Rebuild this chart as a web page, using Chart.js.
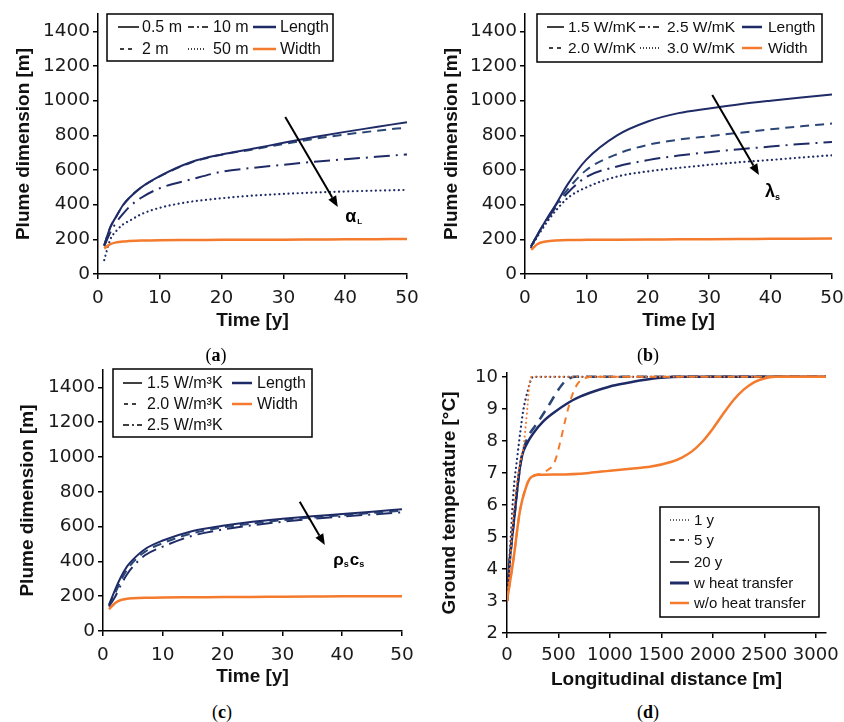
<!DOCTYPE html>
<html><head><meta charset="utf-8">
<script src="https://cdn.jsdelivr.net/npm/chart.js@4.4.0/dist/chart.umd.min.js"></script>
<style>
html,body{margin:0;padding:0;background:#fff;width:844px;height:722px;overflow:hidden;}
.p{position:absolute;}
canvas{display:block;}
.cap{position:absolute;font-family:"Liberation Serif",serif;font-size:18px;color:#000;transform:translate(-50%,-50%);white-space:nowrap;}
</style></head><body>
<div class="p" style="left:0;top:0"><canvas id="ca" width="422" height="340"></canvas></div>
<div class="p" style="left:422px;top:0"><canvas id="cb" width="422" height="340"></canvas></div>
<div class="p" style="left:0;top:340px"><canvas id="cc" width="422" height="360"></canvas></div>
<div class="p" style="left:422px;top:340px"><canvas id="cd" width="422" height="360"></canvas></div>
<div class="cap" style="left:216px;top:355px">(<b>a</b>)</div>
<div class="cap" style="left:648px;top:355px">(<b>b</b>)</div>
<div class="cap" style="left:222px;top:712px">(<b>c</b>)</div>
<div class="cap" style="left:648px;top:712px">(<b>d</b>)</div>
<script>
// ---------- data ----------
const timeYears = [1,2,3,4,5,7,10,15,20,25,30,35,40,45,50];
const timeTicks = [0,10,20,30,40,50];
const plumeTicks = [0,200,400,600,800,1000,1200,1400];

// (a) longitudinal dispersivity
const labelsA = ['0.5 m','10 m','Length','2 m','50 m','Width'];
const lenA_05m = [165,270,335,395,437,500,565,645,690,722,757,790,820,848,876];
const lenA_2m  = [165,270,335,395,437,500,563,642,688,718,750,780,805,826,845];
const lenA_10m = [160,240,300,345,385,440,495,545,590,612,630,648,662,676,690];
const lenA_50m = [80,200,250,285,305,345,382,417,437,452,462,470,476,481,485];
const widthA   = [148,172,183,188,190,193,195,196,197,198,198,199,200,201,202];

// (b) thermal conductivity
const labelsB = ['1.5 W/mK','2.5 W/mK','Length','2.0 W/mK','3.0 W/mK','Width'];
const lenB_15 = [160,225,285,345,400,520,660,800,880,928,955,980,1000,1018,1035];
const lenB_20 = [160,225,285,340,395,490,600,692,745,775,795,815,835,852,868];
const lenB_25 = [160,222,280,335,385,470,560,620,657,683,703,720,735,750,762];
const lenB_30 = [155,215,270,320,365,440,500,562,592,612,630,645,658,672,685];
const widthB  = [140,172,185,190,193,196,197,198,199,200,201,202,203,204,205];

// (c) volumetric heat capacity
const labelsC = ['1.5 W/m³K','2.0 W/m³K','2.5 W/m³K','Length','Width'];
const lenC_15 = [150,235,310,370,410,470,520,575,605,628,645,660,672,685,700];
const lenC_20 = [145,215,290,350,395,455,505,562,595,618,637,652,665,678,692];
const lenC_25 = [140,195,265,325,370,435,485,548,583,608,628,645,658,670,682];
const widthC  = [125,160,178,185,188,191,193,194,195,196,197,198,199,199,200];

// (d) ground temperature profiles
const labelsD = ['1 y','5 y','20 y','w heat transfer','w/o heat transfer'];
const distTicks = [0,500,1000,1500,2000,2500,3000];
const tempTicks = [2,3,4,5,6,7,8,9,10];
const dist1yW  = [0,20,40,62,100,130,159,200,240,260,3100];
const temp1yW  = [3.0,4.1,5.2,6.37,7.5,8.3,8.97,9.55,9.96,10,10];
const dist1yWo = [0,20,40,70,110,140,160,180,200,224,245,3100];
const temp1yWo = [3,3.8,4.7,6.0,7.0,7.5,7.8,8.4,9.1,9.9,10,10];
const dist5yW  = [0,25,50,80,110,143,191,300,400,500,560,613,660,3100];
const temp5yW  = [3,4.2,5,5.9,6.8,7.5,8.03,8.58,9.08,9.6,9.85,9.96,10,10];
const dist5yWo = [0,62,127,224,321,400,450,480,520,570,620,670,720,780,830,3100];
const temp5yWo = [3.0,4.28,5.84,6.83,6.97,7.1,7.25,7.5,8.0,8.7,9.3,9.7,9.9,9.98,10,10];
const dist20yW = [0,25,50,80,110,143,200,256,350,450,600,710,850,1000,1150,1326,1500,1700,3100];
const temp20yW = [3,4.2,5.0,5.9,6.8,7.5,7.95,8.24,8.6,8.87,9.2,9.38,9.55,9.7,9.8,9.9,9.97,10,10];
const dist20yWo = [0,62,127,180,224,321,500,800,1000,1200,1400,1600,1700,1800,1900,2000,2100,2200,2300,2400,2500,2600,3093];
const temp20yWo = [3.0,4.28,5.84,6.5,6.83,6.94,6.95,7.0,7.07,7.13,7.2,7.35,7.48,7.68,7.98,8.38,8.84,9.27,9.6,9.83,9.95,10,10];

// ---------- styles ----------
const NAVY = '#1f2b66', NAVY2 = '#2b4676', ORANGE = '#f47b2d';
const DASH = [9,6], DASHDOT = [16,6,2,6], DOT = [0.1,4.5];
const pts = (xs, ys) => xs.map((x,i) => ({x:x, y:ys[i]}));
function ds(xs, ys, color, dash, width, cap){
  return {data: pts(xs, ys), borderColor: color, borderWidth: width||2, borderDash: dash||[],
    borderCapStyle: cap||'butt', pointRadius: 0, fill:false, cubicInterpolationMode:'monotone'};
}

const deco = {};
const decoPlugin = {
  id: 'deco',
  afterDraw(chart){
    const cfg = deco[chart.canvas.id]; if(!cfg) return;
    const ctx = chart.ctx, xs = chart.scales.x, ys = chart.scales.y;
    ctx.save();
    if (cfg.arrow){
      const [t0,v0,t1,v1] = cfg.arrow;
      const x0 = xs.getPixelForValue(t0), y0 = ys.getPixelForValue(v0);
      const x1 = xs.getPixelForValue(t1), y1 = ys.getPixelForValue(v1);
      const ang = Math.atan2(y1-y0, x1-x0);
      const hl = 11, hw = 4.5;
      const bx = x1 - hl*Math.cos(ang), by = y1 - hl*Math.sin(ang);
      ctx.strokeStyle = '#000'; ctx.lineWidth = 2; ctx.setLineDash([]);
      ctx.beginPath(); ctx.moveTo(x0,y0); ctx.lineTo(bx,by); ctx.stroke();
      ctx.fillStyle = '#000'; ctx.beginPath();
      ctx.moveTo(x1,y1);
      ctx.lineTo(bx + hw*Math.sin(ang), by - hw*Math.cos(ang));
      ctx.lineTo(bx - hw*Math.sin(ang), by + hw*Math.cos(ang));
      ctx.closePath(); ctx.fill();
    }
    if (cfg.symbol){
      let x = xs.getPixelForValue(cfg.symbol.t), y = ys.getPixelForValue(cfg.symbol.v);
      ctx.fillStyle = '#000'; ctx.textBaseline = 'alphabetic'; ctx.textAlign = 'left';
      cfg.symbol.parts.forEach(p => {
        ctx.font = 'bold ' + p[1] + 'px "Liberation Sans", Arial, sans-serif';
        ctx.fillText(p[0], x, y + (p[2]||0));
        x += ctx.measureText(p[0]).width + (p[3]||0);
      });
    }
    if (cfg.legend){
      const L = cfg.legend;
      ctx.fillStyle = '#fff'; ctx.fillRect(L.box[0], L.box[1], L.box[2]-L.box[0], L.box[3]-L.box[1]);
      ctx.strokeStyle = '#000'; ctx.lineWidth = 1.5; ctx.setLineDash([]);
      ctx.strokeRect(L.box[0], L.box[1], L.box[2]-L.box[0], L.box[3]-L.box[1]);
      ctx.font = L.size + 'px "Liberation Sans", Arial, sans-serif';
      ctx.textBaseline = 'middle'; ctx.textAlign = 'left';
      L.items.forEach(it => {
        ctx.strokeStyle = it.c; ctx.lineWidth = it.w || 1.5; ctx.setLineDash(it.d || []);
        ctx.lineCap = it.cap || 'butt';
        ctx.beginPath(); ctx.moveTo(it.x1, it.y); ctx.lineTo(it.x2, it.y); ctx.stroke();
        ctx.setLineDash([]);
        ctx.fillStyle = '#111'; ctx.fillText(it.t, it.tx, it.y + 1);
      });
    }
    ctx.restore();
  }
};

function makeChart(id, datasets, o){
  deco[id] = o.deco;
  const tickFont = {family:'"DejaVu Sans", sans-serif', size:o.tickSize || 18.5};
  const titleFont = {family:'"Liberation Sans", Arial, sans-serif', size:19, weight:'bold'};
  const axisBase = {
    grid:{drawOnChartArea:false, drawTicks:true, tickLength:5, color:'#000', lineWidth:1.5},
    border:{display:true, color:'#000', width:1.5},
  };
  const fmt = v => String(v);
  return new Chart(document.getElementById(id), {
    type:'line',
    data:{datasets: datasets},
    options:{
      responsive:false, animation:false, events:[],
      layout:{padding:{left:0, right:o.padR, top:o.padT, bottom:o.padB}},
      plugins:{legend:{display:false}, tooltip:{enabled:false}},
      scales:{
        x: Object.assign({}, axisBase, {
          type:'linear', min:o.xMin, max:o.xMax,
          afterBuildTicks: s => { s.ticks = o.xTicks.map(v => ({value:v})); },
          afterFit: s => { s.height = o.xH; s.paddingLeft = 0; s.paddingRight = 0; },
          ticks:{font:tickFont, color:'#1a1a1a', padding:o.xTickPad, maxRotation:0, autoSkip:false, callback:fmt},
          title:{display:true, text:o.xTitle, font:titleFont, color:'#111', padding:{top:0,bottom:o.xTitlePad}}
        }),
        y: Object.assign({}, axisBase, {
          type:'linear', min:o.yMin, max:o.yMax,
          afterBuildTicks: s => { s.ticks = o.yTicks.map(v => ({value:v})); },
          afterFit: s => { s.width = o.yW; s.paddingTop = 0; s.paddingBottom = 0; },
          ticks:{font:tickFont, color:'#1a1a1a', padding:o.yTickPad, callback:fmt},
          title:{display:true, text:o.yTitle, font:titleFont, color:'#111', padding:{top:o.yTitlePad,bottom:0}}
        })
      }
    },
    plugins:[decoPlugin]
  });
}

// ---------- (a) ----------
makeChart('ca', [
  ds(timeYears, widthA, ORANGE, [], 2.5),
  ds(timeYears, lenA_05m, NAVY, [], 2),
  ds(timeYears, lenA_2m, NAVY2, DASH, 2),
  ds(timeYears, lenA_10m, NAVY, DASHDOT, 2),
  ds(timeYears, lenA_50m, NAVY, DOT, 2.2, 'round')
], {
  padR:15, padT:14, padB:6, xH:60, yW:98, xMin:0, xMax:50, yMin:0, yMax:1500,
  xTicks:timeTicks, yTicks:plumeTicks, xTickPad:8, yTickPad:3, xTitlePad:2, yTitlePad:12,
  xTitle:'Time [y]', yTitle:'Plume dimension [m]',
  deco:{
    arrow:[30.3,906,38.8,386],
    symbol:{t:40, v:300, parts:[['α',18,0,1],['L',8,2,0]]},
    legend:{box:[107,14,333,61], size:16, items:[
      {t:labelsA[0], x1:118, x2:139, tx:142, y:27, c:'#000'},
      {t:labelsA[1], x1:188, x2:209, tx:213, y:27, c:'#000', d:[6,3,2,3]},
      {t:labelsA[2], x1:253, x2:276, tx:280, y:27, c:NAVY, w:2.5},
      {t:labelsA[3], x1:120, x2:134, tx:142, y:49, c:'#000', d:[4,4]},
      {t:labelsA[4], x1:188, x2:206, tx:213, y:49, c:'#000', d:[1,2]},
      {t:labelsA[5], x1:253, x2:276, tx:280, y:49, c:ORANGE, w:2.5}
    ]}
  }
});

// ---------- (b) ----------
makeChart('cb', [
  ds(timeYears, widthB, ORANGE, [], 2.5),
  ds(timeYears, lenB_15, NAVY, [], 2),
  ds(timeYears, lenB_20, NAVY2, DASH, 2),
  ds(timeYears, lenB_25, NAVY, DASHDOT, 2),
  ds(timeYears, lenB_30, NAVY, DOT, 2.2, 'round')
], {
  padR:12, padT:14, padB:6, xH:60, yW:103, xMin:0, xMax:50, yMin:0, yMax:1500,
  xTicks:timeTicks, yTicks:plumeTicks, xTickPad:8, yTickPad:3, xTitlePad:2, yTitlePad:18,
  xTitle:'Time [y]', yTitle:'Plume dimension [m]',
  deco:{
    arrow:[30.5,1033,38.1,571],
    symbol:{t:39.1, v:444, parts:[['λ',18,0,0],['s',9,3,0]]},
    legend:{box:[115,14,400,62], size:15.5, items:[
      {t:labelsB[0], x1:125, x2:142, tx:146, y:27, c:'#000'},
      {t:labelsB[1], x1:217, x2:239, tx:245, y:27, c:'#000', d:[6,3,2,3]},
      {t:labelsB[2], x1:320, x2:340, tx:346, y:27, c:NAVY, w:2.5},
      {t:labelsB[3], x1:127, x2:141, tx:146, y:48, c:'#000', d:[4,4]},
      {t:labelsB[4], x1:218, x2:239, tx:245, y:48, c:'#000', d:[1,2]},
      {t:labelsB[5], x1:320, x2:340, tx:346, y:48, c:ORANGE, w:2.5}
    ]}
  }
});

// ---------- (c) ----------
makeChart('cc', [
  ds(timeYears, widthC, ORANGE, [], 2.5),
  ds(timeYears, lenC_15, NAVY, [], 2),
  ds(timeYears, lenC_20, NAVY2, DASH, 2),
  ds(timeYears, lenC_25, NAVY, DASHDOT, 2)
], {
  padR:20, padT:30, padB:9, xH:60, yW:103, xMin:0, xMax:50, yMin:0, yMax:1500,
  xTicks:timeTicks, yTicks:plumeTicks, xTickPad:8, yTickPad:3, xTitlePad:3, yTitlePad:16,
  xTitle:'Time [y]', yTitle:'Plume dimension [m]',
  deco:{
    arrow:[32.9,743,37.1,494],
    symbol:{t:38.5, v:379, parts:[['ρ',17,0,0],['s',9,2,1],['c',17,0,0],['s',9,2,0]]},
    legend:{box:[113,29,312,97], size:16, items:[
      {t:labelsC[0], x1:123, x2:142, tx:147, y:43, c:'#000'},
      {t:labelsC[1], x1:124, x2:139, tx:147, y:64, c:'#000', d:[4,4]},
      {t:labelsC[2], x1:123, x2:142, tx:147, y:85, c:'#000', d:[6,3,2,3]},
      {t:labelsC[3], x1:232, x2:252, tx:257, y:43, c:NAVY, w:2.5},
      {t:labelsC[4], x1:232, x2:252, tx:257, y:64, c:ORANGE, w:2.5}
    ]}
  }
});

// ---------- (d) ----------
makeChart('cd', [
  ds(dist20yWo, temp20yWo, ORANGE, [], 2.5),
  ds(dist5yWo, temp5yWo, ORANGE, [7,6], 2),
  ds(dist1yWo, temp1yWo, ORANGE, DOT, 2, 'round'),
  ds(dist20yW, temp20yW, NAVY, [], 2.5),
  ds(dist5yW, temp5yW, NAVY2, [10,7], 2.5),
  ds(dist1yW, temp1yW, NAVY, DOT, 2.2, 'round')
], {
  padR:18, padT:33, padB:7, xH:60, yW:85, xMin:0, xMax:3100, yMin:2, yMax:10.12,
  tickSize:18, xTicks:distTicks, yTicks:tempTicks, xTickPad:7, yTickPad:4, xTitlePad:2, yTitlePad:16,
  xTitle:'Longitudinal distance [m]', yTitle:'Ground temperature [°C]',
  deco:{
    legend:{box:[238,167,397,277], size:15, items:[
      {t:labelsD[0], x1:248, x2:267, tx:272, y:180, c:'#333', d:[1,2]},
      {t:labelsD[1], x1:248, x2:267, tx:272, y:200, c:'#000', d:[5,4]},
      {t:labelsD[2], x1:248, x2:267, tx:272, y:222, c:'#000'},
      {t:labelsD[3], x1:248, x2:267, tx:272, y:243, c:NAVY, w:3},
      {t:labelsD[4], x1:248, x2:267, tx:272, y:263, c:ORANGE, w:2.5}
    ]}
  }
});
</script>
</body></html>
